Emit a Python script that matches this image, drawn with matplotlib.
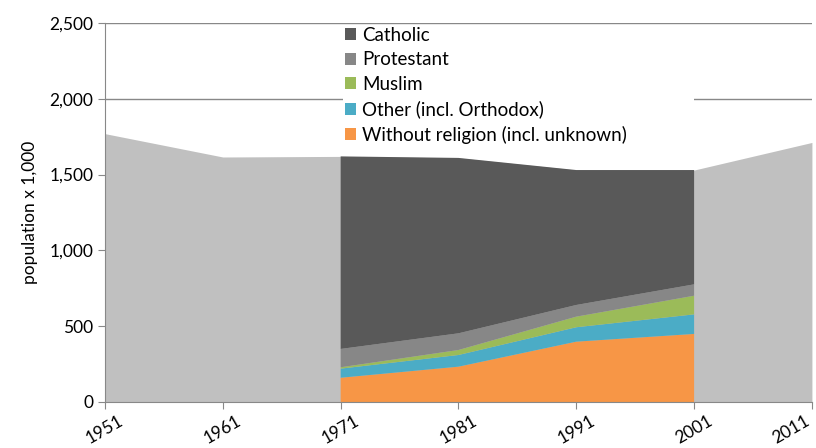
import matplotlib
matplotlib.use("Agg")
import matplotlib.pyplot as plt
from matplotlib.ticker import FuncFormatter

# total population (x 1,000) per census year
years = [1951, 1961, 1971, 1981, 1991, 2001, 2011]
total = [1770, 1616, 1620, 1610, 1530, 1530, 1712]

# breakdown by religion, only known for 1971-2001
rel_years = [1971, 1981, 1991, 2001]
without_religion = [160, 233, 398, 449]
other = [60, 77, 95, 129]
muslim = [9, 33, 70, 123]
protestant = [121, 110, 77, 75]
catholic = [1270, 1157, 890, 754]

labels = ["Without religion (incl. unknown)", "Other (incl. Orthodox)",
          "Muslim", "Protestant", "Catholic"]
colors = ["#f79646", "#4bacc6", "#9bbb59", "#878787", "#595959"]

plt.rcParams["font.family"] = ["Lato", "DejaVu Sans"]

fig = plt.figure(figsize=(8.16, 4.48), dpi=100)
ax = fig.add_axes([0.1287, 0.1027, 0.8663, 0.846])

# grey total in the background
ax.fill_between(years, 0, total, color="#c0c0c0", lw=0, zorder=2)

# stacked religions on top
ax.stackplot(rel_years, without_religion, other, muslim, protestant, catholic,
             colors=colors, labels=labels, lw=0, zorder=3)

ax.set_xlim(1951, 2011)
ax.set_ylim(0, 2500)
ax.set_xticks(years)
ax.set_yticks([0, 500, 1000, 1500, 2000, 2500])
ax.yaxis.set_major_formatter(FuncFormatter(lambda v, p: f"{int(v):,}"))
ax.set_xticklabels([str(y) for y in years], rotation=30, ha="center")
# last label would run off the figure, keep it left of its tick
ax.get_xticklabels()[-1].set_ha("right")

ax.grid(axis="y", color="#888888", lw=1, zorder=1)
ax.set_axisbelow(True)
for side in ["top", "right"]:
    ax.spines[side].set_visible(False)
for side in ["left", "bottom"]:
    ax.spines[side].set_color("#888888")
    ax.spines[side].set_zorder(4)
ax.tick_params(axis="both", colors="#888888", length=5, labelsize=12.5,
               labelcolor="black")
ax.tick_params(axis="x", pad=3)

ax.set_ylabel("population x 1,000", fontsize=12.5, labelpad=8)

# legend order: Catholic first
handles, lbls = ax.get_legend_handles_labels()
leg = ax.legend(handles[::-1], lbls[::-1], loc="upper left",
                bbox_to_anchor=(0.337, 0.995, 0.496, 0.0), mode="expand",
                frameon=True, fancybox=False, fontsize=13.5,
                handlelength=0.6, handleheight=0.6, handletextpad=0.3,
                labelspacing=0.4, borderpad=0.1, borderaxespad=0)
leg.get_frame().set_facecolor("white")
leg.get_frame().set_edgecolor("none")
leg.get_frame().set_alpha(1)
leg.set_zorder(5)

fig.savefig("out.png", dpi=100)
